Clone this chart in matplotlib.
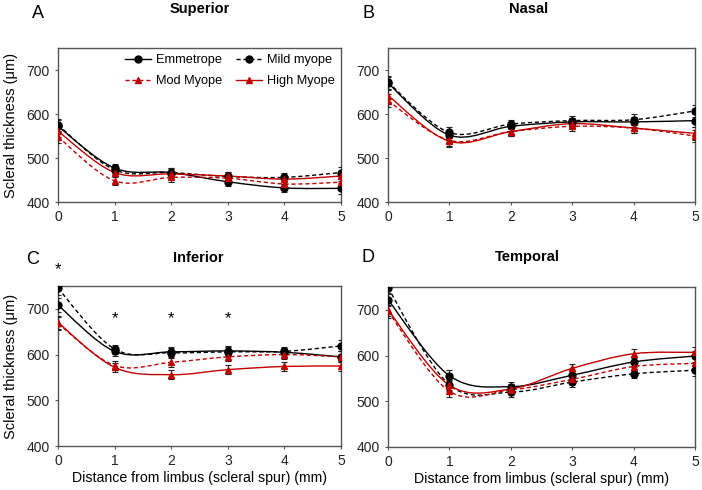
import matplotlib
matplotlib.use('Agg')
import matplotlib.pyplot as plt
import numpy as np
from matplotlib.path import Path
from matplotlib.patches import PathPatch
from matplotlib.lines import Line2D

plt.rcParams['font.family'] = ['Liberation Sans', 'DejaVu Sans']

dist = [0, 1, 2, 3, 4, 5]
groups = ['Emmetrope', 'Mild myope', 'Mod Myope', 'High Myope']

# scleral thickness (um) per region, one list per group
sup_emm = [572, 477, 467, 446, 432, 431]
sup_mild = [575, 473, 467, 458, 456, 467]
sup_mod = [548, 448, 456, 454, 441, 445]
sup_high = [561, 467, 464, 459, 452, 459]

nas_emm = [670, 552, 572, 582, 582, 585]
nas_mild = [672, 558, 577, 585, 587, 607]
nas_mod = [630, 540, 560, 572, 568, 550]
nas_high = [642, 538, 560, 578, 568, 556]

inf_emm = [708, 607, 606, 608, 605, 595]
inf_mild = [745, 612, 604, 606, 607, 619]
inf_mod = [668, 576, 583, 595, 600, 595]
inf_high = [670, 572, 556, 567, 574, 575]

tem_emm = [722, 556, 532, 557, 586, 599]
tem_mild = [748, 536, 520, 542, 560, 568]
tem_mod = [697, 522, 525, 548, 576, 583]
tem_high = [700, 535, 527, 572, 604, 607]

# approx. standard errors, shared across groups
sup_err = [14, 10, 10, 10, 10, 12]
nas_err = [15, 12, 10, 10, 12, 14]
inf_err = [15, 10, 10, 10, 10, 12]
tem_err = [14, 12, 10, 10, 10, 12]

star_x = [0, 1, 2, 3]
star_y = [786, 678, 678, 678]

red = '#c00000'
styles = {
    'Emmetrope': dict(color='black', ls='-', marker='o'),
    'Mild myope': dict(color='black', ls=(0, (3, 2)), marker='o'),
    'Mod Myope': dict(color=red, ls=(0, (3, 2)), marker='^'),
    'High Myope': dict(color=red, ls='-', marker='^'),
}


def smooth_path(x, y):
    # Excel-like smoothed line: cubic bezier through the points
    p = np.column_stack([x, y]).astype(float)
    n = len(p)
    verts = [p[0]]
    codes = [Path.MOVETO]
    for i in range(n - 1):
        p0 = p[i - 1] if i > 0 else p[i]
        p3 = p[i + 2] if i + 2 < n else p[i + 1]
        c1 = p[i] + (p[i + 1] - p0) / 6
        c2 = p[i + 1] - (p3 - p[i]) / 6
        verts += [c1, c2, p[i + 1]]
        codes += [Path.CURVE4] * 3
    return Path(verts, codes)


fig = plt.figure(figsize=(7.02, 4.9), dpi=100)

panels = [
    ('A', 'Superior', [sup_emm, sup_mild, sup_mod, sup_high], sup_err,
     [58 / 702, 1 - 202 / 490, 283 / 702, 154 / 490], (38, 13), (200, 9)),
    ('B', 'Nasal', [nas_emm, nas_mild, nas_mod, nas_high], nas_err,
     [388 / 702, 1 - 202 / 490, 307 / 702, 154 / 490], (369, 13), (529, 9)),
    ('C', 'Inferior', [inf_emm, inf_mild, inf_mod, inf_high], inf_err,
     [58 / 702, 1 - 446 / 490, 283 / 702, 160 / 490], (33, 259), (198, 258)),
    ('D', 'Temporal', [tem_emm, tem_mild, tem_mod, tem_high], tem_err,
     [388 / 702, 1 - 447 / 490, 307 / 702, 160 / 490], (368, 258), (527, 257)),
]

axes = {}
for letter, title, series, err, rect, lpos, tpos in panels:
    ax = fig.add_axes(rect)
    axes[letter] = ax
    for g, vals in zip(groups, series):
        st = styles[g]
        patch = PathPatch(smooth_path(dist, vals), facecolor='none',
                          edgecolor=st['color'], lw=1.0, ls=st['ls'])
        ax.add_patch(patch)
        ax.errorbar(dist, vals, yerr=err, fmt=st['marker'], color=st['color'],
                    ms=5, ecolor='#222222', elinewidth=0.8, capsize=2,
                    capthick=0.8, zorder=3)
    ax.set_xlim(0, 5)
    ax.set_ylim(400, 750)
    ax.set_xticks(dist)
    ax.set_yticks([400, 500, 600, 700])
    ax.tick_params(labelsize=10, length=2, color='#555555', pad=4,
                   labelcolor='#222222')
    for s in ax.spines.values():
        s.set_color('#555555')
        s.set_linewidth(1.0)
    fig.text(lpos[0] / 702, 1 - lpos[1] / 490, letter, fontsize=13,
             ha='center', va='center')
    fig.text(tpos[0] / 702, 1 - tpos[1] / 490, title, fontsize=10.5,
             fontweight='bold', ha='center', va='center')

for k in ['A', 'C']:
    axes[k].set_ylabel('Scleral thickness (\u03bcm)', fontsize=10.5, labelpad=6)
for k in ['C', 'D']:
    axes[k].set_xlabel('Distance from limbus (scleral spur) (mm)',
                       fontsize=10.2, labelpad=2)

for sx, sy in zip(star_x, star_y):
    axes['C'].text(sx, sy, '*', fontsize=12, ha='center', va='center',
                   clip_on=False)

handles = [Line2D([], [], color=styles[g]['color'], ls=styles[g]['ls'],
                  marker=styles[g]['marker'], ms=5, lw=1.0) for g in groups]
order = [0, 2, 1, 3]
axes['A'].legend([handles[i] for i in order], [groups[i] for i in order],
                 ncol=2, loc='upper right', frameon=False, fontsize=9.2,
                 handlelength=2.0, columnspacing=1.1, handletextpad=0.4,
                 borderaxespad=0.1, labelspacing=0.7)

fig.savefig('out.png', dpi=100)
